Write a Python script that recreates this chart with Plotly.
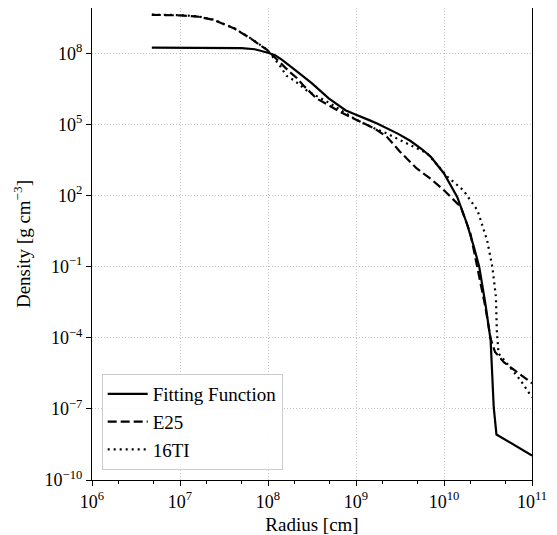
import plotly.graph_objects as go

# Fitting Function (solid)
fit_logx = [6.68, 7.0, 7.4, 7.7, 7.85, 7.95, 8.0, 8.08, 8.16, 8.31, 8.50, 8.69, 8.88, 8.98, 9.07, 9.15,
            9.24, 9.35, 9.48, 9.62, 9.75, 9.85, 10.0, 10.15, 10.26, 10.34, 10.40, 10.47, 10.53,
            10.565, 10.596, 11.0]
fit_logy = [8.237, 8.237, 8.235, 8.22, 8.17, 8.08, 8.02, 7.92, 7.72, 7.29, 6.73, 6.10, 5.60, 5.44, 5.32, 5.18,
            5.04, 4.85, 4.60, 4.30, 3.95, 3.63, 2.93, 1.94, 0.82, -0.17, -1.0, -2.56, -4.11,
            -6.93, -8.08, -8.97]

# E25 (dashed)
e25_logx = [6.68, 7.0, 7.2, 7.38, 7.61, 7.80, 7.99, 8.14, 8.25, 8.33, 8.40, 8.55, 8.82, 9.05, 9.20, 9.35,
            9.50, 9.69, 9.85, 10.0, 10.19, 10.30, 10.40, 10.47, 10.53, 10.58, 10.68, 10.83, 11.0]
e25_logy = [9.62, 9.60, 9.55, 9.41, 9.06, 8.63, 8.14, 7.58, 7.20, 6.95, 6.65, 6.10, 5.53, 5.11, 4.85, 4.48,
            3.85, 3.14, 2.70, 2.22, 1.52, 0.40, -1.40, -2.70, -4.04, -4.60, -5.03, -5.45, -5.92]

# 16TI (dotted)
ti_logx = [6.68, 7.0, 7.2, 7.38, 7.61, 7.80, 7.99, 8.14, 8.21, 8.30, 8.45, 8.67, 8.85, 9.01, 9.20, 9.35,
           9.50, 9.65, 9.81, 10.04, 10.22, 10.38, 10.49, 10.55, 10.59, 10.60, 10.62, 10.72, 10.87, 11.0]
ti_logy = [9.63, 9.61, 9.56, 9.42, 9.07, 8.64, 8.15, 7.45, 7.05, 6.85, 6.40, 5.96, 5.55, 5.18, 4.85, 4.62,
           4.34, 4.08, 3.78, 2.79, 2.22, 1.38, 0.11, -1.02, -2.28, -3.69, -4.67, -5.10, -5.80, -6.51]

xtick_exp = [6, 7, 8, 9, 10, 11]
ytick_exp = [-10, -7, -4, -1, 2, 5, 8]


def to_lin(v):
    return [10 ** a for a in v]


def labels(exps):
    return ["10<sup>%s</sup>" % (str(e).replace("-", "−")) for e in exps]


FONT = "Liberation Serif"

fig = go.Figure()
fig.add_trace(go.Scatter(x=to_lin(fit_logx), y=to_lin(fit_logy), mode="lines", name="Fitting Function",
                         line=dict(color="black", width=2.2, dash="solid")))
fig.add_trace(go.Scatter(x=to_lin(e25_logx), y=to_lin(e25_logy), mode="lines", name="E25",
                         line=dict(color="black", width=2.2, dash="9px,4px")))
fig.add_trace(go.Scatter(x=to_lin(ti_logx), y=to_lin(ti_logy), mode="lines", name="16TI",
                         line=dict(color="black", width=2.2, dash="2px,4px")))

axis_common = dict(
    showline=True, linecolor="black", linewidth=1.2, mirror=True,
    ticks="outside", ticklen=5, tickwidth=1, tickcolor="black",
    showgrid=True, gridcolor="#c4c4c4", gridwidth=1, griddash="1px,2px",
    zeroline=False, automargin=False,
    tickfont=dict(family=FONT, size=18, color="black"),
)

fig.update_xaxes(type="log", range=[6, 11], tickvals=to_lin(xtick_exp), ticktext=labels(xtick_exp),
                 title=dict(text="Radius [cm]", font=dict(family=FONT, size=19, color="black"), standoff=6),
                 minor=dict(ticks="outside", ticklen=3, tickwidth=0.8, tickcolor="black", showgrid=False),
                 **axis_common)
fig.update_yaxes(type="log", range=[-10, 9.91], tickvals=to_lin(ytick_exp), ticktext=labels(ytick_exp),
                 title=dict(text="Density [g cm<sup>−3</sup>]", font=dict(family=FONT, size=19, color="black"),
                            standoff=8),
                 **axis_common)

fig.update_layout(
    width=549, height=527,
    margin=dict(l=84, r=25, t=0, b=55),
    paper_bgcolor="white", plot_bgcolor="white",
    font=dict(family=FONT, color="black"),
    legend=dict(x=0.022, y=0.021, xanchor="left", yanchor="bottom",
                bgcolor="rgba(255,255,255,0.85)", bordercolor="#cccccc", borderwidth=1,
                font=dict(family=FONT, size=19, color="black"),
                tracegroupgap=0, itemwidth=40),
    showlegend=True,
)

fig.write_html("out.html")
